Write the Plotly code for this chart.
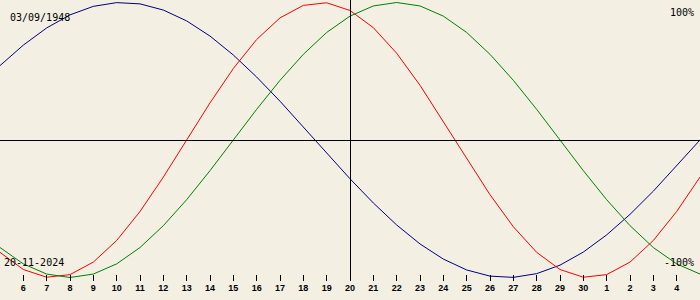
import plotly.graph_objects as go

# Day labels along the x axis (index 0..30); Nov 5 .. Dec 5
day_labels = ["5", "6", "7", "8", "9", "10", "11", "12", "13", "14", "15", "16",
              "17", "18", "19", "20", "21", "22", "23", "24", "25", "26", "27",
              "28", "29", "30", "1", "2", "3", "4", "5"]

# Biorhythm values (fraction of 100%), one per day
intellectual = [0.541, 0.690, 0.815, 0.910, 0.972, 0.999, 0.990, 0.945, 0.866, 0.756,
                0.618, 0.458, 0.282, 0.095, -0.095, -0.282, -0.458, -0.618, -0.756,
                -0.866, -0.945, -0.990, -0.999, -0.972, -0.910, -0.815, -0.690,
                -0.541, -0.372, -0.189, 0.000]
physical = [-0.817, -0.942, -0.998, -0.979, -0.888, -0.731, -0.520, -0.270, 0.000,
            0.270, 0.520, 0.731, 0.888, 0.979, 0.998, 0.942, 0.817, 0.631, 0.398,
            0.136, -0.136, -0.398, -0.631, -0.817, -0.942, -0.998, -0.979, -0.888,
            -0.731, -0.520, -0.270]
emotional = [-0.782, -0.901, -0.975, -1.000, -0.975, -0.901, -0.782, -0.623, -0.434,
             -0.223, 0.000, 0.223, 0.434, 0.623, 0.782, 0.901, 0.975, 1.000, 0.975,
             0.901, 0.782, 0.623, 0.434, 0.223, 0.000, -0.223, -0.434, -0.623,
             -0.782, -0.901, -0.975]

birth_date = "03/09/1948"
current_date = "20-11-2024"
today_index = 15
top_label = "100%"
bottom_label = "-100%"

x = list(range(len(day_labels)))
BG = "#F3EFE3"

fig = go.Figure()
for vals, col in [(intellectual, "#000080"), (physical, "#FF0000"), (emotional, "#008000")]:
    fig.add_trace(go.Scatter(x=x, y=vals, mode="lines",
                             line=dict(color=col, width=1), hoverinfo="skip",
                             showlegend=False))

plot_w = 700
plot_h = 281
def py(pix):
    return (plot_h - pix) / plot_h

# zero line and today line, placed on pixel centres for crisp 1px lines
fig.add_shape(type="line", xref="paper", yref="paper", x0=0, x1=1,
              y0=py(140.5), y1=py(140.5), line=dict(color="black", width=1))
xt = (today_index / 30 * plot_w + 0.5) / plot_w
fig.add_shape(type="line", xref="paper", yref="paper", x0=xt, x1=xt,
              y0=0, y1=1, line=dict(color="black", width=1))

txt_font = dict(family="DejaVu Sans Mono", size=10, color="black")
fig.add_annotation(text=birth_date, xref="paper", yref="paper", x=9 / 700, y=py(17),
                   xanchor="left", yanchor="middle", showarrow=False, font=txt_font,
                   borderpad=0)
fig.add_annotation(text=current_date, xref="paper", yref="paper", x=3 / 700, y=py(262),
                   xanchor="left", yanchor="middle", showarrow=False, font=txt_font,
                   borderpad=0)
fig.add_annotation(text=top_label, xref="paper", yref="paper", x=695 / 700, y=py(13),
                   xanchor="right", yanchor="middle", showarrow=False, font=txt_font,
                   borderpad=0)
fig.add_annotation(text=bottom_label, xref="paper", yref="paper", x=695 / 700, y=py(262),
                   xanchor="right", yanchor="middle", showarrow=False, font=txt_font,
                   borderpad=0)

fig.update_layout(
    width=700, height=300,
    margin=dict(l=0, r=0, t=0, b=300 - plot_h),
    paper_bgcolor=BG, plot_bgcolor=BG,
    xaxis=dict(range=[0, 30], showgrid=False, zeroline=False, showline=False,
               ticks="inside", ticklen=6, tickwidth=1, tickcolor="black",
               tickvals=x[1:30], ticktext=day_labels[1:30],
               tickfont=dict(family="Liberation Sans", size=9, color="black", weight="bold"),
               ticklabelstandoff=0, fixedrange=True),
    yaxis=dict(range=[-1.02545, 1.01818], showgrid=False, zeroline=False,
               showline=False, showticklabels=False, ticks="", fixedrange=True),
)

fig.write_html("out.html")
